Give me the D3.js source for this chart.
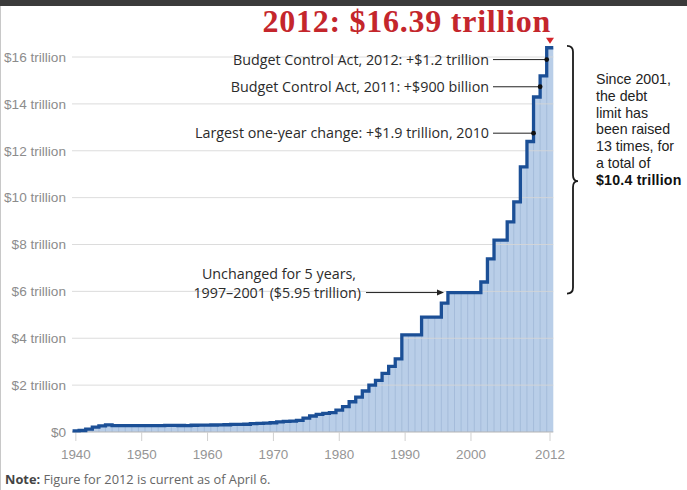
<!DOCTYPE html>
<html>
<head>
<meta charset="utf-8">
<script src="https://cdn.jsdelivr.net/npm/d3@7"></script>
<style>
  html, body { margin: 0; padding: 0; background: #fff; }
  svg { display: block; }
</style>
</head>
<body>
<svg id="chart" width="687" height="490"></svg>
<script>
// ---------- DATA ----------
const years = d3.range(1940, 2013);
const limits = [ // debt limit, trillions of dollars
  0.049, 0.065, 0.125, 0.210, 0.260, 0.300, 0.275, 0.275, 0.275, 0.275,
  0.275, 0.275, 0.275, 0.275, 0.281, 0.281, 0.278, 0.275, 0.288, 0.295,
  0.293, 0.298, 0.308, 0.309, 0.324, 0.328, 0.330, 0.358, 0.365, 0.377,
  0.395, 0.430, 0.450, 0.465, 0.495, 0.595, 0.682, 0.752, 0.798, 0.830,
  0.935, 1.079, 1.290, 1.490, 1.750, 2.000, 2.200, 2.500, 2.800, 3.123,
  4.145, 4.145, 4.145, 4.900, 4.900, 4.900, 5.500, 5.950, 5.950, 5.950,
  5.950, 5.950, 6.400, 7.384, 8.184, 8.184, 8.965, 9.815, 11.315, 12.394,
  14.294, 15.194, 16.394
];
const yTicks = [0, 2, 4, 6, 8, 10, 12, 14, 16];
const yTickLabels = ["$0", "$2 trillion", "$4 trillion", "$6 trillion", "$8 trillion",
  "$10 trillion", "$12 trillion", "$14 trillion", "$16 trillion"];
const xTicks = [1940, 1950, 1960, 1970, 1980, 1990, 2000, 2012];
const titleText = "2012: $16.39 trillion";
const leaderNotes = [
  { text: "Budget Control Act, 2012: +$1.2 trillion", year: 2011.5, value: 15.89 },
  { text: "Budget Control Act, 2011: +$900 billion", year: 2010.5, value: 14.73 },
  { text: "Largest one-year change: +$1.9 trillion, 2010", year: 2009.5, value: 12.75 }
];
const plateauNote = { lines: ["Unchanged for 5 years,", "1997\u20132001 ($5.95 trillion)"], year: 1995.9, value: 5.95 };
const braceRange = { from: 16.5, to: 5.95, tipValue: 10.7 };
const braceLines = ["Since 2001,", "the debt", "limit has", "been raised", "13 times, for", "a total of"];
const braceBold = "$10.4 trillion";
const noteBold = "Note:";
const noteText = " Figure for 2012 is current as of April 6.";

// ---------- LAYOUT ----------
const svg = d3.select("#chart");
const W = 687, H = 490;
const x = d3.scaleLinear().domain([1940, 2012]).range([75.85, 550]);
const y = d3.scaleLinear().domain([0, 16]).range([432, 57]);
const xRight = x(2012.5);

const sans = "'Liberation Sans', Arial, sans-serif";
const annFont = "'Open Sans', 'Liberation Sans', sans-serif";
const annSize = 14.3;

// frame
svg.append("rect").attr("x", 0).attr("y", 0).attr("width", W).attr("height", H).attr("fill", "#fff");
svg.append("rect").attr("x", 0).attr("y", 0).attr("width", W).attr("height", 6).attr("fill", "#3b3b3b");
svg.append("rect").attr("x", 0).attr("y", 6).attr("width", 1).attr("height", H - 6).attr("fill", "#c8c8c8");

// step data points
const pts = years.map((yr, i) => ({ t: yr - 0.5, v: limits[i] }));
pts.push({ t: 2012.5, v: limits[limits.length - 1] });

// area
const area = d3.area().curve(d3.curveStepAfter)
  .x(d => x(d.t)).y0(y(0)).y1(d => y(d.v));
svg.append("path").datum(pts).attr("d", area).attr("fill", "#b9cee8");

// yearly stripes inside area
svg.append("g").selectAll("line").data(years.slice(1)).join("line")
  .attr("x1", d => x(d - 0.5)).attr("x2", d => x(d - 0.5))
  .attr("y1", y(0))
  .attr("y2", (d, i) => y(Math.min(limits[i], limits[i + 1])))
  .attr("stroke", "#a0b8d7").attr("stroke-width", 0.8);

// gridlines
svg.append("g").selectAll("line").data(yTicks).join("line")
  .attr("x1", 72).attr("x2", xRight)
  .attr("y1", d => y(d)).attr("y2", d => y(d))
  .attr("stroke", d => d === 0 ? "#b5b5b5" : "#d6d6d6")
  .attr("stroke-opacity", d => d === 0 ? 1 : 0.85)
  .attr("stroke-width", 1);

// y labels
svg.append("g").selectAll("text").data(yTicks).join("text")
  .attr("x", 66).attr("y", d => y(d)).attr("dy", "0.35em")
  .attr("text-anchor", "end")
  .attr("font-family", sans).attr("font-size", 13.6).attr("fill", "#8c8c8c")
  .text((d, i) => yTickLabels[i]);

// x ticks and labels
const xg = svg.append("g");
xg.selectAll("line").data(xTicks).join("line")
  .attr("x1", d => x(d)).attr("x2", d => x(d))
  .attr("y1", y(0)).attr("y2", y(0) + 9)
  .attr("stroke", "#d0d0d0").attr("stroke-width", 1);
xg.selectAll("text").data(xTicks).join("text")
  .attr("x", d => x(d)).attr("y", 459)
  .attr("text-anchor", "middle")
  .attr("font-family", sans).attr("font-size", 13.4).attr("fill", "#959595")
  .text(d => d);

// step line
const line = d3.line().curve(d3.curveStepAfter).x(d => x(d.t)).y(d => y(d.v));
svg.append("path").datum(pts).attr("d", line)
  .attr("fill", "none").attr("stroke", "#1b4f96").attr("stroke-width", 3.3)
  .attr("stroke-linejoin", "miter");

// title
svg.append("text").attr("x", 551).attr("y", 32).attr("text-anchor", "end")
  .attr("font-family", "'Liberation Serif', 'Times New Roman', serif")
  .attr("font-weight", "bold").attr("font-size", 32).attr("letter-spacing", 0.75)
  .attr("fill", "#c4262c").text(titleText);
// red triangle marker at 2012
const tx = x(2012), ty = y(limits[limits.length - 1]) - 4;
svg.append("path")
  .attr("d", `M${tx - 4},${ty - 6} L${tx + 4},${ty - 6} L${tx},${ty} Z`)
  .attr("fill", "#d3262c");

// leader notes
const ng = svg.append("g");
leaderNotes.forEach(n => {
  const px = x(n.year), py = y(n.value);
  ng.append("text").attr("x", 489).attr("y", py).attr("dy", "0.35em")
    .attr("text-anchor", "end").attr("font-family", annFont)
    .attr("font-size", annSize).attr("fill", "#2b2b2b").text(n.text);
  ng.append("line").attr("x1", 493).attr("x2", px).attr("y1", py).attr("y2", py)
    .attr("stroke", "#222").attr("stroke-width", 1);
  ng.append("circle").attr("cx", px).attr("cy", py).attr("r", 2.4).attr("fill", "#111");
});

// plateau note with arrow
{
  const py = y(plateauNote.value), px = x(plateauNote.year);
  ng.append("text").attr("x", 356).attr("y", py - 19).attr("dy", "0.35em")
    .attr("text-anchor", "end").attr("font-family", annFont)
    .attr("font-size", annSize).attr("fill", "#2b2b2b").text(plateauNote.lines[0]);
  ng.append("text").attr("x", 361).attr("y", py).attr("dy", "0.35em")
    .attr("text-anchor", "end").attr("font-family", annFont)
    .attr("font-size", annSize).attr("fill", "#2b2b2b").text(plateauNote.lines[1]);
  ng.append("line").attr("x1", 366).attr("x2", px - 5).attr("y1", py).attr("y2", py)
    .attr("stroke", "#222").attr("stroke-width", 1);
  ng.append("path").attr("d", `M${px},${py} L${px - 7},${py - 3} L${px - 7},${py + 3} Z`)
    .attr("fill", "#222");
}

// curly brace
{
  const bx = 573, top = y(braceRange.from) + 0.5, bot = y(braceRange.to) + 1, tip = y(braceRange.tipValue);
  const d = `M${bx - 6},${top} Q${bx},${top} ${bx},${top + 6}
    L${bx},${tip - 6} Q${bx},${tip} ${bx + 5},${tip}
    Q${bx},${tip} ${bx},${tip + 6}
    L${bx},${bot - 6} Q${bx},${bot} ${bx - 6},${bot}`;
  svg.append("path").attr("d", d).attr("fill", "none")
    .attr("stroke", "#1a1a1a").attr("stroke-width", 1.8);
  const tg = svg.append("g").attr("font-family", sans).attr("font-size", 14.2).attr("fill", "#222");
  braceLines.forEach((s, i) => {
    tg.append("text").attr("x", 596).attr("y", 84 + i * 16.8).text(s);
  });
  tg.append("text").attr("x", 596).attr("y", 84 + braceLines.length * 16.8)
    .attr("font-weight", "bold").attr("fill", "#111").attr("letter-spacing", 0.2).text(braceBold);
}

// footnote
{
  const t = svg.append("text").attr("x", 5).attr("y", 484)
    .attr("font-family", annFont).attr("font-size", 12.8).attr("fill", "#666");
  t.append("tspan").attr("font-weight", "bold").attr("fill", "#444").text(noteBold);
  t.append("tspan").text(noteText);
}
</script>
</body>
</html>
